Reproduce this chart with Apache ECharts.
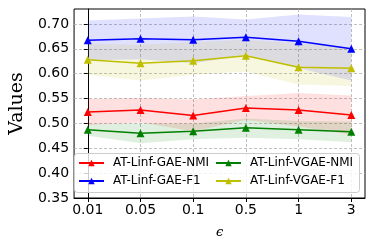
<!DOCTYPE html>
<html><head><meta charset="utf-8">
<script src="https://cdn.jsdelivr.net/npm/echarts@6/dist/echarts.min.js"></script>
<style>html,body{margin:0;padding:0;background:#fff}#c{width:374px;height:249px}</style>
</head><body><div id="c"></div>
<script>
const categories = ['0.01', '0.05', '0.1', '0.5', '1', '3'];
const yTicks = [0.35, 0.40, 0.45, 0.50, 0.55, 0.60, 0.65, 0.70];

const gaeNmi     = [0.523, 0.527, 0.516, 0.531, 0.527, 0.517];
const gaeNmiLow  = [0.497, 0.502, 0.484, 0.507, 0.494, 0.477];
const gaeNmiHigh = [0.549, 0.551, 0.548, 0.555, 0.561, 0.556];

const gaeF1      = [0.667, 0.670, 0.668, 0.673, 0.665, 0.650];
const gaeF1Low   = [0.627, 0.629, 0.621, 0.637, 0.611, 0.586];
const gaeF1High  = [0.707, 0.711, 0.715, 0.709, 0.719, 0.714];

const vgaeNmi     = [0.487, 0.480, 0.484, 0.491, 0.487, 0.483];
const vgaeNmiLow  = [0.475, 0.460, 0.468, 0.471, 0.468, 0.462];
const vgaeNmiHigh = [0.499, 0.500, 0.500, 0.510, 0.505, 0.504];

const vgaeF1     = [0.628, 0.621, 0.626, 0.636, 0.613, 0.611];
const vgaeF1Low  = [0.598, 0.586, 0.598, 0.604, 0.578, 0.575];
const vgaeF1High = [0.660, 0.658, 0.663, 0.668, 0.661, 0.653];

const groups = [
  {name: 'AT-Linf-GAE-NMI', color: '#ff0000', fill: 'rgba(255,0,0,0.12)', mean: gaeNmi, low: gaeNmiLow, high: gaeNmiHigh},
  {name: 'AT-Linf-GAE-F1', color: '#0000ff', fill: 'rgba(0,0,255,0.12)', mean: gaeF1, low: gaeF1Low, high: gaeF1High},
  {name: 'AT-Linf-VGAE-NMI', color: '#008000', fill: 'rgba(0,128,0,0.12)', mean: vgaeNmi, low: vgaeNmiLow, high: vgaeNmiHigh},
  {name: 'AT-Linf-VGAE-F1', color: '#bfbf00', fill: 'rgba(191,191,0,0.12)', mean: vgaeF1, low: vgaeF1Low, high: vgaeF1High}
];

const idx = categories.map((c, i) => i);
const series = [];
groups.forEach(g => {
  series.push({
    type: 'custom', silent: true, z: 1,
    data: idx.map(i => [i, g.low[i], g.high[i]]),
    renderItem: (params, api) => {
      if (params.dataIndex !== 0) return null;
      const top = idx.map(i => api.coord([i, g.high[i]]));
      const bot = idx.slice().reverse().map(i => api.coord([i, g.low[i]]));
      return {type: 'polygon', shape: {points: top.concat(bot)}, style: {fill: g.fill}};
    }
  });
});
groups.forEach(g => {
  series.push({
    name: g.name, type: 'line', symbol: 'triangle', symbolSize: 8,
    itemStyle: {color: g.color}, lineStyle: {color: g.color, width: 1.5},
    data: idx.map(i => [i, g.mean[i]]), z: 2
  });
});

const legendText = {fontFamily: 'DejaVu Sans', fontSize: 12, color: '#000', padding: [0, 0, 0, 4]};
const chart = echarts.init(document.getElementById('c'), null, {renderer: 'canvas'});
chart.setOption({
  animation: false,
  backgroundColor: '#fff',
  grid: {left: 68, right: 9, top: 9, bottom: 51, show: true, borderColor: '#000', borderWidth: 1},
  xAxis: {
    type: 'value', min: -0.26, max: 5.26,
    name: 'ϵ', nameLocation: 'middle', nameGap: 28,
    nameTextStyle: {fontFamily: 'DejaVu Serif', fontStyle: 'italic', fontSize: 13, color: '#000'},
    axisLine: {lineStyle: {color: '#000', width: 1}},
    axisTick: {customValues: idx, length: 4, lineStyle: {color: '#000'}},
    axisLabel: {customValues: idx, formatter: v => categories[Math.round(v)], fontFamily: 'DejaVu Sans', fontSize: 14, color: '#000', margin: 5},
    splitLine: {show: true, lineStyle: {color: '#b0b0b0', type: [3, 2], width: 0.8}}
  },
  yAxis: {
    type: 'value', min: 0.35, max: 0.73,
    name: 'Values', nameLocation: 'middle', nameGap: 44,
    nameTextStyle: {fontFamily: 'DejaVu Serif', fontSize: 19, color: '#000'},
    axisLine: {lineStyle: {color: '#000', width: 1}},
    axisTick: {customValues: yTicks, length: 4, lineStyle: {color: '#000'}},
    axisLabel: {customValues: yTicks, formatter: v => v.toFixed(2), fontFamily: 'DejaVu Sans', fontSize: 14, color: '#000', margin: 5},
    splitLine: {show: true, lineStyle: {color: '#b0b0b0', type: [3, 2], width: 0.8}}
  },
  legend: [
    {data: [groups[0].name, groups[1].name], orient: 'vertical', left: 78, top: 157, padding: 0, itemWidth: 25, itemHeight: 8, itemGap: 6, textStyle: legendText, z: 10},
    {data: [groups[2].name, groups[3].name], orient: 'vertical', left: 215, top: 157, padding: 0, itemWidth: 25, itemHeight: 8, itemGap: 6, textStyle: legendText, z: 10}
  ],
  graphic: [{type: 'rect', left: 74, top: 153, z: 5, shape: {width: 285, height: 39, r: 3}, style: {fill: 'rgba(255,255,255,0.8)', stroke: '#cccccc', lineWidth: 1}}],
  series: series
});
</script></body></html>
